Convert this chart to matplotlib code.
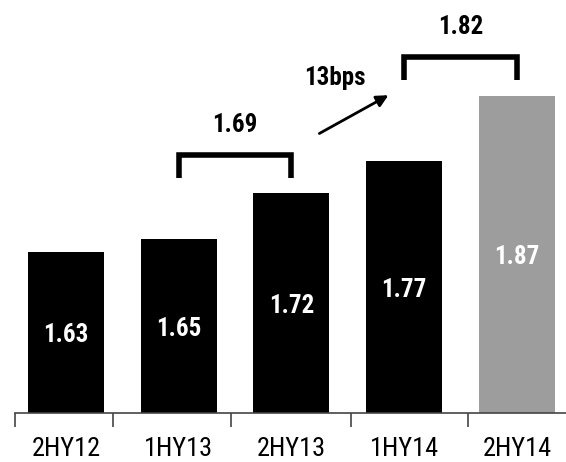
import matplotlib.pyplot as plt

# datos del grafico
categorias = ["2HY12", "1HY13", "2HY13", "1HY14", "2HY14"]
valores = [1.63, 1.65, 1.72, 1.77, 1.87]
promedios = [1.69, 1.82]          # promedio anual (corchetes)
pares_corchete = [(1, 2), (3, 4)]  # barras que abarca cada corchete
texto_flecha = "13bps"

plt.rcParams["font.family"] = ["Roboto Condensed", "DejaVu Sans"]

fig = plt.figure(figsize=(5.66, 4.62), dpi=100)
ax = fig.add_axes([0, 0.106, 1, 0.894])

base = 1.382
colores = ["black"] * 4 + ["#9d9d9d"]
x = list(range(len(categorias)))
ax.bar(x, [v - base for v in valores], bottom=base, width=0.674, color=colores)

# etiquetas dentro de las barras
for xi, v in zip(x, valores):
    ax.text(xi, (base + v) / 2 - 0.004, f"{v:.2f}", ha="center", va="center",
            color="white", fontsize=18, fontweight="bold")

# corchetes con el promedio
alturas = [(1.779, 1.7435), (1.930, 1.894)]
for (a, b), prom, (top, pie) in zip(pares_corchete, promedios, alturas):
    ax.plot([a, a, b, b], [pie, top, top, pie], color="black", lw=4,
            solid_joinstyle="miter", solid_capstyle="butt")
    ax.text((a + b) / 2, top + 0.046, f"{prom:.2f}", ha="center", va="center",
            fontsize=18, fontweight="bold")

# flecha de crecimiento
ax.annotate("", xy=(2.882, 1.873), xytext=(2.226, 1.810),
            arrowprops=dict(arrowstyle="-|>,head_length=0.7,head_width=0.35",
                            color="black", lw=2))
ax.text(2.386, 1.897, texto_flecha, ha="center", va="center",
        fontsize=18, fontweight="bold")

# ejes
ax.set_xlim(-0.585, 4.435)
ax.set_ylim(base, base + 413 / 650)
for lado in ["top", "right", "left"]:
    ax.spines[lado].set_visible(False)
ax.spines["bottom"].set_bounds(-0.452, 4.435)
ax.spines["bottom"].set_color("#444444")
ax.spines["bottom"].set_linewidth(1.2)
ax.set_yticks([])
ax.set_xticks(x)
ax.set_xticklabels(categorias, fontsize=19)
ax.tick_params(axis="x", length=0, pad=17)
ax.set_xticks([-0.452, 0.42, 1.46, 2.53, 3.57], minor=True)
ax.tick_params(axis="x", which="minor", length=10, width=1.2, color="#444444")

plt.savefig("out.png", dpi=100)
